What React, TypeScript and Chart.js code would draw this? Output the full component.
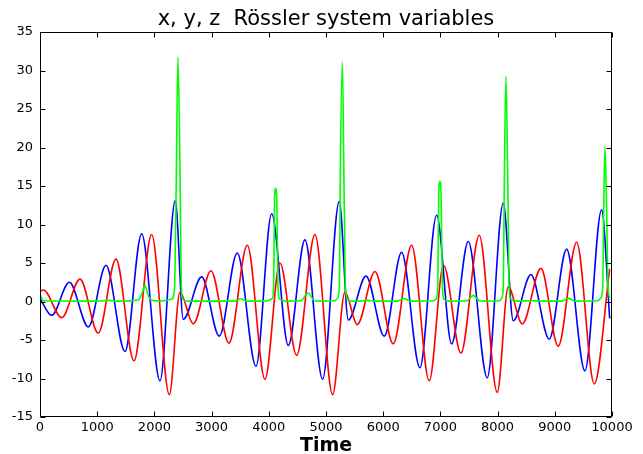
import React, { useEffect, useRef } from "react";
import { Chart, registerables } from "chart.js";

Chart.register(...registerables);

const TITLE = "x, y, z  Rössler system variables";
const X_TITLE = "Time";
const X_TICKS = [0, 1000, 2000, 3000, 4000, 5000, 6000, 7000, 8000, 9000, 10000];
const Y_TICKS = [-15, -10, -5, 0, 5, 10, 15, 20, 25, 30, 35];

// x variable (blue): turning points
const xTimes = [0, 204, 513, 845, 1154, 1486, 1777, 2098, 2365, 2505, 2826, 3134, 3449, 3776, 4050, 4341, 4632, 4941, 5232, 5390, 5699, 6019, 6322, 6642, 6934, 7196, 7487, 7819, 8099, 8274, 8583, 8903, 9207, 9527, 9818, 9960];
const xValues = [0.4, -1.8, 2.5, -3.3, 4.7, -6.5, 8.8, -10.3, 13.1, -2.3, 3.2, -4.5, 6.3, -8.4, 11.4, -5.7, 8.0, -10.1, 13.0, -2.4, 3.3, -4.5, 6.4, -8.6, 11.2, -5.5, 7.8, -9.9, 12.8, -2.5, 3.5, -4.9, 6.8, -9.0, 11.9, -2.2];

// y variable (red)
const yTimes = [0, 60, 379, 699, 1019, 1328, 1643, 1952, 2261, 2447, 2680, 2989, 3304, 3624, 3933, 4195, 4487, 4807, 5116, 5331, 5547, 5856, 6176, 6497, 6805, 7055, 7359, 7679, 7994, 8186, 8431, 8758, 9060, 9382, 9690, 9960];
const yValues = [1.3, 1.5, -2.1, 2.9, -4.1, 5.5, -7.7, 8.7, -12.1, 1.2, -2.9, 4.0, -5.4, 7.3, -10.1, 5.0, -7.0, 8.7, -12.1, 1.2, -3.0, 3.9, -5.5, 7.3, -10.3, 4.7, -6.7, 8.6, -11.8, 1.9, -2.9, 4.3, -5.8, 7.7, -10.7, 4.2];

// z variable (green)
const zTimes = [0, 60, 1000, 1200, 1350, 1720, 1790, 1835, 1880, 1950, 2100, 2300, 2350, 2377, 2412, 2447, 2470, 2500, 2600, 3000, 3400, 3510, 3620, 3950, 4060, 4085, 4100, 4120, 4140, 4160, 4190, 4300, 4560, 4685, 4800, 4900, 5150, 5200, 5235, 5250, 5286, 5318, 5340, 5370, 5450, 5600, 5720, 5850, 6250, 6360, 6470, 6880, 6930, 6955, 6970, 6992, 7012, 7035, 7060, 7150, 7460, 7576, 7680, 7780, 8030, 8070, 8100, 8116, 8146, 8180, 8200, 8230, 8350, 8620, 8750, 9120, 9240, 9350, 9750, 9800, 9840, 9855, 9877, 9905, 9930, 9960];
const zValues = [0.9, 0.1, 0.05, 0.15, 0.05, 0.2, 1.2, 2.1, 1.0, 0.15, 0.05, 0.3, 1.5, 12.5, 31.7, 17.3, 2.0, 0.3, 0.05, 0.05, 0.05, 0.35, 0.05, 0.05, 0.4, 2.0, 13.2, 14.7, 13.2, 2.0, 0.3, 0.05, 0.1, 1.1, 0.1, 0.05, 0.1, 0.4, 2.0, 16.4, 31.1, 13.2, 2.0, 0.3, 0.05, 0.05, 0.15, 0.05, 0.05, 0.4, 0.05, 0.1, 0.4, 2.0, 13.8, 15.6, 13.8, 2.0, 0.3, 0.05, 0.1, 0.8, 0.1, 0.05, 0.1, 0.4, 2.0, 14.6, 29.2, 14.6, 2.0, 0.3, 0.05, 0.1, 0.05, 0.05, 0.4, 0.05, 0.1, 0.4, 2.0, 12.0, 20.1, 12.3, 2.0, 0.5];

const pts = (ts: number[], vs: number[]) => ts.map((t, i) => ({ x: t, y: vs[i] }));

const FONT = "DejaVu Sans";

const boxTicks = {
  id: "boxTicks",
  afterDatasetsDraw(chart: any) {
    const { ctx, chartArea, scales } = chart;
    const l = Math.round(chartArea.left) + 0.5;
    const r = Math.round(chartArea.right) - 0.5;
    const t = Math.round(chartArea.top) + 0.5;
    const b = Math.round(chartArea.bottom) - 0.5;
    ctx.save();
    ctx.strokeStyle = "#000";
    ctx.lineWidth = 1;
    ctx.beginPath();
    ctx.rect(l, t, r - l, b - t);
    for (const v of X_TICKS) {
      const px = Math.round(scales.x.getPixelForValue(v)) + 0.5;
      ctx.moveTo(px, b);
      ctx.lineTo(px, b - 5);
      ctx.moveTo(px, t);
      ctx.lineTo(px, t + 5);
    }
    for (const v of Y_TICKS) {
      const py = Math.round(scales.y.getPixelForValue(v)) + 0.5;
      ctx.moveTo(l, py);
      ctx.lineTo(l + 5, py);
      ctx.moveTo(r, py);
      ctx.lineTo(r - 5, py);
    }
    ctx.stroke();
    ctx.restore();
  },
};

export default function App() {
  const ref = useRef<HTMLCanvasElement>(null);
  useEffect(() => {
    const canvas = ref.current;
    if (!canvas) return;
    const line = (data: any, color: string, order: number) => ({
      data,
      borderColor: color,
      backgroundColor: color,
      borderWidth: 1.6,
      pointRadius: 0,
      fill: false,
      cubicInterpolationMode: "monotone" as const,
      order,
    });
    const chart = new Chart(canvas, {
      type: "line",
      data: {
        datasets: [
          line(pts(xTimes, xValues), "#0000ff", 3),
          line(pts(yTimes, yValues), "#ff0000", 2),
          line(pts(zTimes, zValues), "#00ff00", 1),
        ],
      },
      options: {
        responsive: false,
        animation: false,
        parsing: false as any,
        layout: { padding: { left: 0, right: 31, top: 0, bottom: 0 } },
        plugins: {
          legend: { display: false },
          tooltip: { enabled: false },
          title: {
            display: true,
            text: TITLE,
            fullSize: false,
            color: "#000",
            font: { family: FONT, size: 21, weight: "normal", lineHeight: 1 },
            padding: { top: 9, bottom: 2 },
          },
        },
        scales: {
          x: {
            type: "linear",
            min: 0,
            max: 10000,
            grid: { display: false, drawTicks: false },
            border: { display: false },
            ticks: {
              stepSize: 1000,
              color: "#000",
              padding: 3,
              maxRotation: 0,
              autoSkip: false,
              font: { family: FONT, size: 13 },
              callback: (v: any) => String(v),
            },
            title: {
              display: true,
              text: X_TITLE,
              color: "#000",
              padding: 0,
              font: { family: FONT, size: 19, weight: "bold", lineHeight: 0.8 },
            },
            afterFit: (s: any) => {
              s.height = 37;
            },
          },
          y: {
            type: "linear",
            min: -15,
            max: 35,
            grid: { display: false, drawTicks: false },
            border: { display: false },
            ticks: {
              stepSize: 5,
              color: "#000",
              padding: 7,
              font: { family: FONT, size: 13 },
              callback: (v: any) => String(v),
            },
            afterFit: (s: any) => {
              s.width = 40;
            },
          },
        },
      },
      plugins: [boxTicks],
    });
    return () => chart.destroy();
  }, []);
  return (
    <div style={{ position: "absolute", left: 0, top: 0, width: 643, height: 454, background: "#fff" }}>
      <canvas ref={ref} width={643} height={454} style={{ display: "block", width: 643, height: 454 }} />
    </div>
  );
}
